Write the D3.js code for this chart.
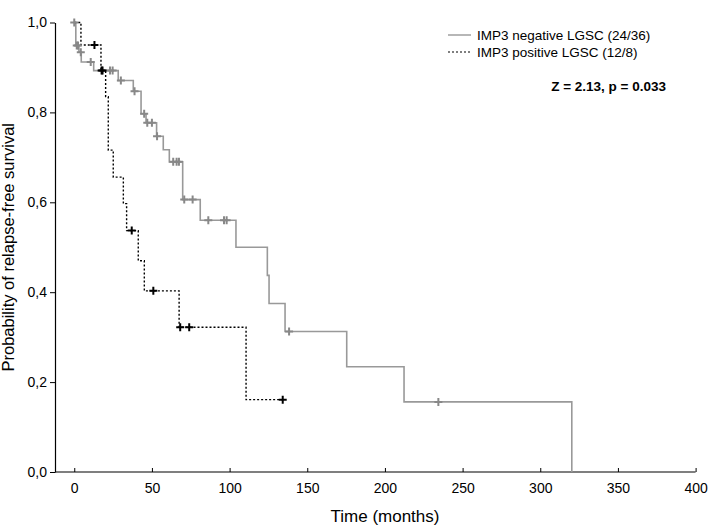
<!DOCTYPE html>
<html>
<head>
<meta charset="utf-8">
<script src="https://cdn.jsdelivr.net/npm/d3@7"></script>
<style>
  body { margin: 0; background: #fff; }
  svg { font-family: "Liberation Sans", Arial, sans-serif; }
</style>
</head>
<body>
<div id="chart"></div>
<script>
// ---- data ----
// IMP3 negative LGSC: event times (months) and survival right after each drop
const negTimes = [1, 3, 4.5, 12.5, 28.3, 38, 43, 46.2, 53, 57.3, 61.2, 69.8, 81.1, 104.1, 124.3, 125.4, 135.7, 175.4, 212.3, 320.3];
const negSurv  = [0.949, 0.934, 0.912, 0.893, 0.871, 0.847, 0.797, 0.777, 0.747, 0.717, 0.69, 0.606, 0.56, 0.5, 0.4375, 0.375, 0.3125, 0.234, 0.156, 0];
const negCensor = [0, 1.6, 2.4, 4.2, 10.6, 23, 24.7, 30, 38.8, 45, 47, 50, 53.3, 63.7, 65.9, 67.4, 70.8, 76.2, 86.3, 96.4, 98.1, 138.3, 234.4];

// IMP3 positive LGSC
const posTimes = [4.3, 17.2, 20.2, 21.9, 25.1, 31.6, 33.7, 41.2, 45.1, 67.5, 110.6];
const posSurv  = [0.95, 0.893, 0.835, 0.716, 0.656, 0.597, 0.537, 0.47, 0.403, 0.322, 0.161];
const posCensor = [13, 17.6, 18.2, 37, 50.9, 68.2, 74, 134.2];

const xTicks = [0, 50, 100, 150, 200, 250, 300, 350, 400];
const yTicks = [0, 0.2, 0.4, 0.6, 0.8, 1.0];

const legendLabels = ['IMP3 negative LGSC (24/36)', 'IMP3 positive LGSC (12/8)'];
const statText = 'Z = 2.13, p = 0.033';

// ---- layout ----
const W = 708, H = 527;
const svg = d3.select('#chart').append('svg')
  .attr('width', W)
  .attr('height', H);

const x = d3.scaleLinear().domain([-12.4, 400]).range([55, 695.6]);
const y = d3.scaleLinear().domain([0, 1]).range([472, 22.5]);

// step helpers
function stepPoints(times, surv, endT) {
  const pts = [[0, 1]];
  times.forEach((t, i) => pts.push([t, surv[i]]));
  const last = pts[pts.length - 1];
  if (endT > last[0]) pts.push([endT, last[1]]);
  return pts;
}
function survAt(times, surv, t) {
  let s = 1;
  times.forEach((tt, i) => { if (tt <= t) s = surv[i]; });
  return s;
}

const line = d3.line()
  .x(d => x(d[0]))
  .y(d => y(d[1]))
  .curve(d3.curveStepAfter);

// ---- axes ----
const xAxis = svg.append('g')
  .attr('transform', `translate(0,${y(0)})`)
  .call(d3.axisBottom(x).tickValues(xTicks).tickSizeInner(-4).tickSizeOuter(0).tickPadding(11));
xAxis.select('.domain').attr('stroke', '#000').attr('stroke-width', 1.2)
  .attr('d', `M${x.range()[0]},0H${x.range()[1]}`);
xAxis.selectAll('.tick line').attr('stroke', '#000');
xAxis.selectAll('.tick text').attr('font-size', '14px').attr('fill', '#000');

const yAxis = svg.append('g')
  .attr('transform', `translate(${x.range()[0]},0)`)
  .call(d3.axisLeft(y).tickValues(yTicks).tickSizeInner(5).tickSizeOuter(0).tickPadding(3)
    .tickFormat(d => d3.format('.1f')(d).replace('.', ',')));
yAxis.select('.domain').attr('stroke', '#000').attr('stroke-width', 1.2);
yAxis.selectAll('.tick line').attr('stroke', '#000');
yAxis.selectAll('.tick text').attr('font-size', '14px').attr('fill', '#000');

svg.append('text')
  .attr('x', 385)
  .attr('y', 522)
  .attr('text-anchor', 'middle')
  .attr('font-size', '17px')
  .text('Time (months)');

svg.append('text')
  .attr('transform', `translate(14,${(y(0) + y(1)) / 2}) rotate(-90)`)
  .attr('text-anchor', 'middle')
  .attr('font-size', '16.5px')
  .text('Probability of relapse-free survival');

// ---- curves ----
const negColor = '#999';
const posColor = '#000';

svg.append('path')
  .datum(stepPoints(negTimes, negSurv, negTimes[negTimes.length - 1]))
  .attr('d', line)
  .attr('fill', 'none')
  .attr('stroke', negColor)
  .attr('stroke-width', 1.6);

svg.append('path')
  .datum(stepPoints(posTimes, posSurv, d3.max(posCensor)))
  .attr('d', line)
  .attr('fill', 'none')
  .attr('stroke', posColor)
  .attr('stroke-width', 1.4)
  .attr('stroke-dasharray', '2,2');

// censor crosses
function drawCensors(times, surv, censors, col, sw) {
  const g = svg.append('g');
  censors.forEach(t => {
    const cx = x(t), cy = y(survAt(times, surv, t));
    g.append('path')
      .attr('d', `M${cx - 4},${cy}H${cx + 4}M${cx},${cy - 4}V${cy + 4}`)
      .attr('stroke', col)
      .attr('stroke-width', sw)
      .attr('fill', 'none');
  });
}
drawCensors(negTimes, negSurv, negCensor, '#888', 2);
drawCensors(posTimes, posSurv, posCensor, '#000', 2);

// ---- legend ----
const legend = svg.append('g');
legend.append('line')
  .attr('x1', 448).attr('x2', 471).attr('y1', 35).attr('y2', 35)
  .attr('stroke', negColor).attr('stroke-width', 1.4);
legend.append('line')
  .attr('x1', 448).attr('x2', 471).attr('y1', 52).attr('y2', 52)
  .attr('stroke', posColor).attr('stroke-width', 1.2).attr('stroke-dasharray', '2,2');
legendLabels.forEach((lab, i) => {
  legend.append('text')
    .attr('x', 477)
    .attr('y', 35 + i * 17)
    .attr('dy', '0.35em')
    .attr('font-size', '13.5px')
    .text(lab);
});

svg.append('text')
  .attr('x', 666)
  .attr('y', 86)
  .attr('dy', '0.35em')
  .attr('text-anchor', 'end')
  .attr('font-size', '13.5px')
  .attr('font-weight', 'bold')
  .text(statText);
</script>
</body>
</html>
